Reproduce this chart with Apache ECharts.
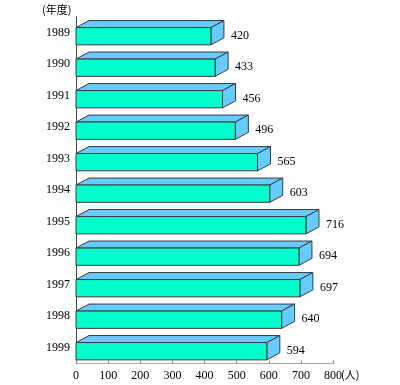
<!DOCTYPE html>
<html><head><meta charset="utf-8">
<script src="https://cdn.jsdelivr.net/npm/echarts@6/dist/echarts.min.js"></script>
<style>html,body{margin:0;padding:0;background:#fff}#c{width:400px;height:385px}</style>
</head><body><div id="c"></div>
<script>
var years = ['1989','1990','1991','1992','1993','1994','1995','1996','1997','1998','1999'];
var values = [420, 433, 456, 496, 565, 603, 716, 694, 697, 640, 594];
var xTicks = [0, 100, 200, 300, 400, 500, 600, 700, 800];

var serif = '"Liberation Serif","DejaVu Serif",serif';
var chart = echarts.init(document.getElementById('c'));
var DX = 13, DY = 7;
chart.setOption({
  animation: false,
  grid: {left: 76, right: 67, top: 17, bottom: 21.5},
  xAxis: {
    type: 'value', min: 0, max: 800, interval: 100,
    axisLine: {show: true, lineStyle: {color: '#aaa', width: 1}},
    axisTick: {show: true, inside: true, length: 3, lineStyle: {color: '#888'}},
    splitLine: {show: false},
    axisLabel: {color: '#000', fontFamily: serif, fontSize: 12, margin: 6}
  },
  yAxis: {
    type: 'category', data: years, inverse: true,
    axisLine: {show: true, lineStyle: {color: '#444', width: 1}},
    axisTick: {show: false},
    axisLabel: {color: '#000', fontFamily: serif, fontSize: 12, margin: 6}
  },
  graphic: [
    {type: 'text', left: 42, top: 4, style: {text: '(年度)', fill: '#000', font: '11px "Noto Sans CJK JP"'}},
    {type: 'text', left: 341, top: 369, style: {text: '(人)', fill: '#000', font: '11px "Noto Sans CJK JP"'}}
  ],
  series: [{
    type: 'custom',
    data: values.map(function(v, i){return [v, i];}),
    encode: {x: 0, y: 1},
    renderItem: function(params, api){
      var v = api.value(0), i = api.value(1);
      var p0 = api.coord([0, i]);
      var p1 = api.coord([v, i]);
      var c = p0[1];
      var x0 = p0[0], x1 = p1[0];
      var fTop = c - 5.2, fBot = c + 12.1;
      var stroke = '#3a3a3a';
      return {type: 'group', children: [
        {type: 'polygon', shape: {points: [[x0, fTop],[x0+DX, fTop-DY],[x1+DX, fTop-DY],[x1, fTop]]},
          style: {fill: '#66ccff', stroke: stroke, lineWidth: 1}},
        {type: 'polygon', shape: {points: [[x1, fTop],[x1+DX, fTop-DY],[x1+DX, fBot-DY],[x1, fBot]]},
          style: {fill: '#66ccff', stroke: stroke, lineWidth: 1}},
        {type: 'rect', shape: {x: x0, y: fTop, width: x1 - x0, height: fBot - fTop},
          style: {fill: '#00ffcc', stroke: stroke, lineWidth: 1}},
        {type: 'text', x: x1 + DX + 7, y: c + 3,
          style: {text: String(v), fill: '#000', font: '12px ' + serif, verticalAlign: 'middle'}}
      ]};
    }
  }]
});
</script></body></html>
